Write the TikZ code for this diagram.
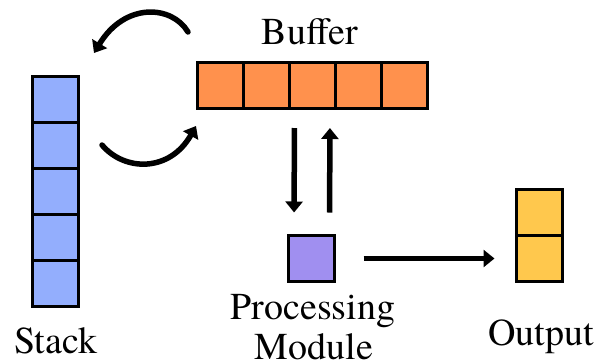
\documentclass[tikz,border=0pt]{standalone}
\usepackage{fontspec}
\setmainfont{texgyretermes-regular.otf}
\usetikzlibrary{arrows.meta,calc}

\definecolor{stackblue}{RGB}{147,174,253}
\definecolor{bufferorange}{RGB}{255,145,77}
\definecolor{modpurple}{RGB}{160,143,240}
\definecolor{outyellow}{RGB}{255,200,77}

\tikzset{
  cell/.style={draw=black, line width=3pt, minimum size=46pt, inner sep=0pt, outer sep=0pt},
  stackcell/.style={cell, fill=stackblue},
  bufcell/.style={cell, fill=bufferorange},
  modcell/.style={cell, fill=modpurple},
  outcell/.style={cell, fill=outyellow},
  lbl/.style={font=\fontsize{38}{41}\selectfont, inner sep=0pt, anchor=base},
  flow/.style={line width=5.5pt, -{Triangle[length=11pt,width=17pt]}},
  swing/.style={flow, line cap=round},
}

\begin{document}
\begin{tikzpicture}[x=1pt, y=-1pt]
  \useasboundingbox (0,0) rectangle (598,360);
  \fill[white] (0,0) rectangle (598,360);

  % stack (vertical column of five cells)
  \foreach \i/\y in {1/99,2/145,3/191,4/237,5/283}
    \node[stackcell] (s\i) at (55,\y) {};

  % buffer (horizontal row of five cells)
  \foreach \i/\x in {1/220,2/266,3/312,4/358,5/404}
    \node[bufcell] (b\i) at (\x,85) {};

  % processing module
  \node[modcell] (mod) at (311.5,258.5) {};

  % output (two stacked cells)
  \node[outcell] (o1) at (539.5,212.5) {};
  \node[outcell] (o2) at (539.5,258.5) {};

  % labels
  \node[lbl] (lblbuf) at (310,44) {Buffer};
  \node[lbl] (lblstack) at (56,353) {Stack};
  \node[lbl] (lblproc) at (313,319) {Processing};
  \node[lbl] (lblmod) at (314,359) {Module};
  \node[lbl] (lblout) at (541,345) {Output};

  % buffer <-> module
  \draw[flow, shorten <=20pt, shorten >=23pt]
    ([xshift=-17.5pt]b3.south) -- ([xshift=-17.5pt]mod.north);
  \draw[flow, shorten <=23pt, shorten >=20pt]
    ([xshift=18pt]mod.north) -- ([xshift=18pt]b3.south);

  % module -> output
  \draw[flow, shorten <=29pt, shorten >=22pt]
    (mod.east |- o2.center) -- (o2.west);

  % swap arrows between buffer and stack
  \coordinate (topfrom) at (188,32);
  \coordinate (topto) at (94,53);
  \coordinate (botfrom) at (102,145);
  \coordinate (botto) at (196,126);
  \draw[swing] (topfrom) .. controls (172,5) and (125,2) .. (topto);
  \draw[swing] (botfrom) .. controls (125,172) and (170,172) .. (botto);
\end{tikzpicture}
\end{document}
